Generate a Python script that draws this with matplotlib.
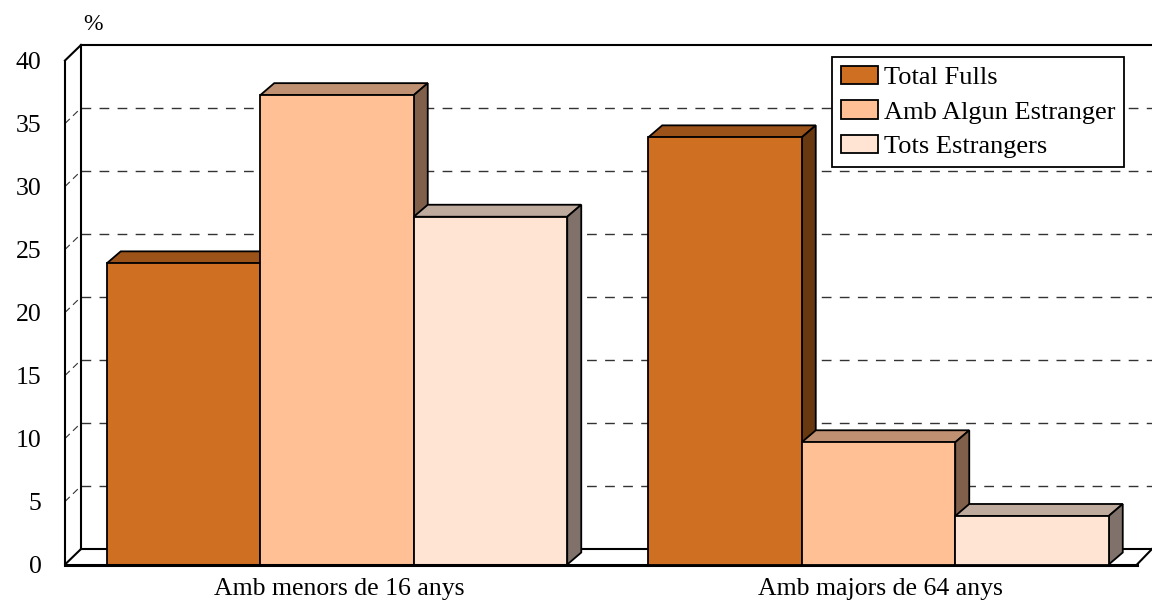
import matplotlib
matplotlib.use('Agg')
import matplotlib.pyplot as plt
from matplotlib.patches import Patch, Polygon
from matplotlib.ticker import MultipleLocator
from matplotlib.colors import to_rgb

categories = ['Amb menors de 16 anys', 'Amb majors de 64 anys']
series = ['Total Fulls', 'Amb Algun Estranger', 'Tots Estrangers']
total_fulls = [23.9, 33.9]
amb_algun = [37.25, 9.7]
tots_estrangers = [27.6, 3.85]
yticks = [0, 5, 10, 15, 20, 25, 30, 35, 40]
colors = ['#cf6f22', '#ffc096', '#ffe4d3']

W, H = 1152, 609
x_unit = 541.5      # px between the two groups
y_unit = 12.6       # px per percent
left_px, right_px = 65, 1152
bottom_px, top_px = 564.5, 45

plt.rcParams['font.family'] = ['Liberation Serif', 'DejaVu Serif']
fig = plt.figure(figsize=(W / 100, H / 100), dpi=100)
ax = fig.add_axes([left_px / W, 1 - bottom_px / H, (right_px - left_px) / W, (bottom_px - top_px) / H])
ax.set_xlim((left_px - 337) / x_unit, (right_px - 337) / x_unit)
ax.set_ylim(0, (bottom_px - top_px) / y_unit)
for s in ax.spines.values():
    s.set_visible(False)

# depth of the walls and of the bars, in data units
wall_dx, wall_dy = 16 / x_unit, 15.5 / y_unit
bar_dx, bar_dy = 14 / x_unit, 12 / y_unit
x0 = ax.get_xlim()[0]
x1 = ax.get_xlim()[1]
front_right = (1137 - 337) / x_unit

# walls and grid
ax.plot([x0, x0], [0, 40], color='k', lw=1.5, clip_on=False, zorder=2)
ax.plot([x0 + wall_dx, x0 + wall_dx], [wall_dy, 40 + wall_dy], color='k', lw=1.5, clip_on=False, zorder=2)
ax.plot([x0, x0 + wall_dx], [40, 40 + wall_dy], color='k', lw=1.5, clip_on=False, zorder=2)
ax.plot([x0, x0 + wall_dx], [0, wall_dy], color='k', lw=1.5, zorder=2)
ax.plot([x0 + wall_dx, x1], [40 + wall_dy, 40 + wall_dy], color='k', lw=1.5, clip_on=False, zorder=2)
ax.plot([x0 + wall_dx, x1], [wall_dy, wall_dy], color='k', lw=1.5, zorder=2)
ax.plot([x0, front_right], [0, 0], color='k', lw=2.2, clip_on=False, zorder=9)
ax.plot([front_right, x1], [0, wall_dy], color='k', lw=1.5, zorder=2)
for t in yticks[1:-1]:
    ax.plot([x0 + wall_dx, x1], [t + wall_dy, t + wall_dy], color='#333333', lw=1, dashes=(7, 6), zorder=1)
    ax.plot([x0, x0 + wall_dx], [t, t + wall_dy], color='#333333', lw=0.8, dashes=(6, 4), zorder=1)

values = [total_fulls, amb_algun, tots_estrangers]
width = 153.5 / x_unit
offsets = [-width, 0, width]


def shade(c, k):
    r, g, b = to_rgb(c)
    return (r * k, g * k, b * k)


z = 3
for g in range(len(categories)):
    for i in range(len(series)):
        v = values[i][g]
        xl = g + offsets[i] - width / 2
        xr = xl + width
        top = Polygon([(xl, v), (xl + bar_dx, v + bar_dy), (xr + bar_dx, v + bar_dy), (xr, v)],
                      closed=True, fc=shade(colors[i], 0.75), ec='k', lw=1.3, zorder=z)
        side = Polygon([(xr, 0), (xr + bar_dx, bar_dy), (xr + bar_dx, v + bar_dy), (xr, v)],
                       closed=True, fc=shade(colors[i], 0.5), ec='k', lw=1.3, zorder=z)
        ax.add_patch(top)
        ax.add_patch(side)
        ax.bar(g + offsets[i], v, width, color=colors[i], edgecolor='k', linewidth=1.3, zorder=z + 1)
        z += 2

ax.set_xticks([0.004, 1.003])
ax.set_xticklabels(categories, fontsize=18.5)
ax.yaxis.set_major_locator(MultipleLocator(5))
ax.set_yticks(yticks)
ax.tick_params(axis='both', length=0, labelsize=18.5)
ax.tick_params(axis='y', pad=17)
ax.tick_params(axis='x', pad=10)
ax.text(93 / W, 1 - 25 / H, '%', transform=fig.transFigure, ha='center', va='center', fontsize=17)

handles = [Patch(facecolor=colors[i], edgecolor='k', linewidth=1.3, label=series[i]) for i in range(3)]
leg = fig.legend(handles=handles, loc='upper left',
                 bbox_to_anchor=(832 / W, 1 - 57 / H), bbox_transform=fig.transFigure,
                 fontsize=19, frameon=True, fancybox=False, framealpha=1, edgecolor='k',
                 borderaxespad=0, borderpad=0.33, labelspacing=0.42,
                 handlelength=1.4, handleheight=0.7, handletextpad=0.25)
leg.get_frame().set_linewidth(1.3)
leg.set_zorder(30)

fig.savefig('out.png', dpi=100)
